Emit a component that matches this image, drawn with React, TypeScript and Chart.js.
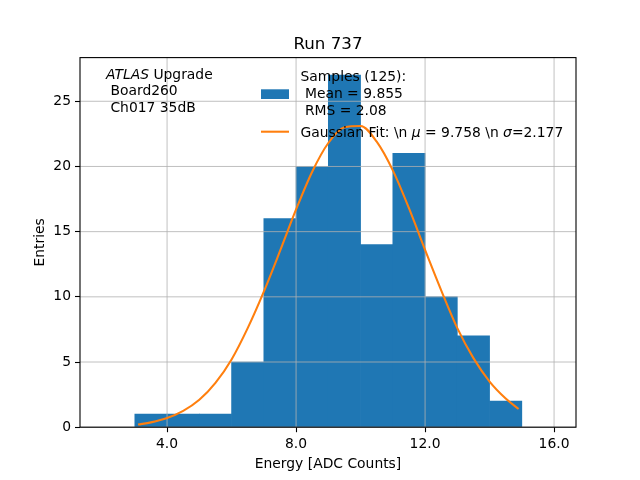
import React, { useEffect, useRef } from "react";
import { Chart, registerables } from "chart.js";

Chart.register(...registerables);

// ---- data ----
const BIN_CENTERS = [3.5, 4.5, 5.5, 6.5, 7.5, 8.5, 9.5, 10.5, 11.5, 12.5, 13.5, 14.5];
const COUNTS = [1, 1, 1, 5, 16, 20, 27, 14, 21, 10, 7, 2];
const FIT_X = [3.1, 3.5, 4.0, 4.5, 5.0, 5.5, 6.0, 6.5, 7.0, 7.5, 8.0, 8.5, 9.0, 9.5, 10.0, 10.5, 11.0, 11.5, 12.0, 12.5, 13.0, 13.5, 14.0, 14.5, 14.9];
const FIT_Y = [0.2, 0.37, 0.7, 1.25, 2.1, 3.4, 5.2, 7.6, 10.4, 13.5, 16.7, 19.6, 21.8, 23.0, 23.1, 21.9, 19.7, 16.8, 13.6, 10.5, 7.6, 5.3, 3.5, 2.2, 1.4];
const X_TICKS = [4, 8, 12, 16];
const Y_TICKS = [0, 5, 10, 15, 20, 25];

const TITLE = "Run 737";
const X_LABEL = "Energy [ADC Counts]";
const Y_LABEL = "Entries";
const ATLAS_ITALIC = "ATLAS";
const ATLAS_LINES = [" Upgrade", " Board260", " Ch017 35dB"];
const HIST_LABEL = ["Samples (125):", " Mean = 9.855", " RMS = 2.08"];
const FIT_LABEL_PARTS: [string, boolean][] = [
  ["Gaussian Fit: \\n ", false],
  ["\u03bc", true],
  [" = 9.758 \\n ", false],
  ["\u03c3", true],
  ["=2.177", false],
];

const BLUE = "#1f77b4";
const ORANGE = "#ff7f0e";
const FONT = '"DejaVu Sans"';
const FS = 13.89;

const overlayPlugin = {
  id: "overlay",
  afterDatasetDraw(chart: any, args: any) {
    if (args.meta.type !== "bar") return;
    const { ctx, chartArea: a, scales } = chart;
    ctx.save();
    ctx.strokeStyle = "#b0b0b0";
    ctx.lineWidth = 0.8;
    scales.x.ticks.forEach((t: any) => {
      const px = scales.x.getPixelForValue(t.value);
      ctx.beginPath();
      ctx.moveTo(px, a.top);
      ctx.lineTo(px, a.bottom);
      ctx.stroke();
    });
    scales.y.ticks.forEach((t: any) => {
      const py = scales.y.getPixelForValue(t.value);
      ctx.beginPath();
      ctx.moveTo(a.left, py);
      ctx.lineTo(a.right, py);
      ctx.stroke();
    });
    ctx.restore();
  },
  afterDraw(chart: any) {
    const { ctx, chartArea: a } = chart;
    ctx.save();
    // spines
    ctx.strokeStyle = "#000";
    ctx.lineWidth = 1.1;
    ctx.strokeRect(a.left, a.top, a.right - a.left, a.bottom - a.top);

    ctx.fillStyle = "#000";
    ctx.textBaseline = "alphabetic";
    // title
    ctx.font = `16.67px ${FONT}`;
    ctx.textAlign = "center";
    ctx.fillText(TITLE, (a.left + a.right) / 2, 49.3);

    ctx.textAlign = "left";
    // ATLAS text
    const lh = 16.9;
    ctx.font = `italic ${FS}px ${FONT}`;
    ctx.fillText(ATLAS_ITALIC, 106, 78.5);
    const w = ctx.measureText(ATLAS_ITALIC).width;
    ctx.font = `${FS}px ${FONT}`;
    ctx.fillText(ATLAS_LINES[0], 106 + w, 78.5);
    ctx.fillText(ATLAS_LINES[1], 106, 78.5 + lh);
    ctx.fillText(ATLAS_LINES[2], 106, 78.5 + 2 * lh);

    // legend
    ctx.fillStyle = BLUE;
    ctx.fillRect(261, 89.3, 28, 9.7);
    ctx.strokeStyle = ORANGE;
    ctx.lineWidth = 2.08;
    ctx.beginPath();
    ctx.moveTo(261, 131.7);
    ctx.lineTo(289, 131.7);
    ctx.stroke();

    ctx.fillStyle = "#000";
    HIST_LABEL.forEach((s, i) => ctx.fillText(s, 300.5, 81 + i * lh));
    let x = 300.5;
    FIT_LABEL_PARTS.forEach(([s, it]) => {
      ctx.font = `${it ? "italic " : ""}${FS}px ${FONT}`;
      ctx.fillText(s, x, 136.6);
      x += ctx.measureText(s).width;
    });
    ctx.restore();
  },
};

export default function App() {
  const ref = useRef<HTMLCanvasElement | null>(null);
  useEffect(() => {
    if (!ref.current) return;
    Chart.defaults.font.family = FONT;
    Chart.defaults.font.size = FS;
    Chart.defaults.color = "#000";
    const chart = new Chart(ref.current, {
      type: "bar",
      data: {
        datasets: [
          {
            type: "line",
            label: "fit",
            data: FIT_X.map((x, i) => ({ x, y: FIT_Y[i] })),
            borderColor: ORANGE,
            borderWidth: 2.08,
            pointRadius: 0,
            cubicInterpolationMode: "monotone",
            fill: false,
            order: 0,
          } as any,
          {
            type: "bar",
            label: "hist",
            data: BIN_CENTERS.map((x, i) => ({ x, y: COUNTS[i] })),
            backgroundColor: BLUE,
            borderWidth: 0,
            barPercentage: 1,
            categoryPercentage: 1,
            grouped: false,
            order: 1,
          } as any,
        ],
      },
      options: {
        animation: false,
        responsive: false,
        devicePixelRatio: 1,
        layout: { padding: { top: 57.6, right: 64, bottom: 0, left: 0 } },
        plugins: { legend: { display: false }, tooltip: { enabled: false }, title: { display: false } },
        scales: {
          x: {
            type: "linear",
            min: 1.3,
            max: 16.68,
            offset: false,
            afterBuildTicks: (s: any) => { s.ticks = X_TICKS.map((v) => ({ value: v })); },
            afterFit: (s: any) => { s.height = 52.8; },
            ticks: { autoSkip: false, maxRotation: 0, padding: 3.4, callback: (v: any) => Number(v).toFixed(1) },
            grid: { offset: false, drawOnChartArea: false, drawTicks: true, tickLength: 5, tickColor: "#000", tickWidth: 1.1 },
            border: { display: false },
            title: { display: true, text: X_LABEL, padding: { top: 0, bottom: 6.8 } },
          },
          y: {
            type: "linear",
            min: 0,
            max: 28.35,
            afterBuildTicks: (s: any) => { s.ticks = Y_TICKS.map((v) => ({ value: v })); },
            afterFit: (s: any) => { s.width = 80; },
            ticks: { padding: 4, callback: (v: any) => String(v) },
            grid: { drawOnChartArea: false, drawTicks: true, tickLength: 5, tickColor: "#000", tickWidth: 1.1 },
            border: { display: false },
            title: { display: true, text: Y_LABEL, padding: { top: 32.5, bottom: 0 } },
          },
        },
      } as any,
      plugins: [overlayPlugin],
    });
    return () => chart.destroy();
  }, []);
  return (
    <div style={{ position: "absolute", left: 0, top: 0, width: 640, height: 480, background: "#fff" }}>
      <canvas ref={ref} width={640} height={480} style={{ display: "block", width: 640, height: 480 }} />
    </div>
  );
}
